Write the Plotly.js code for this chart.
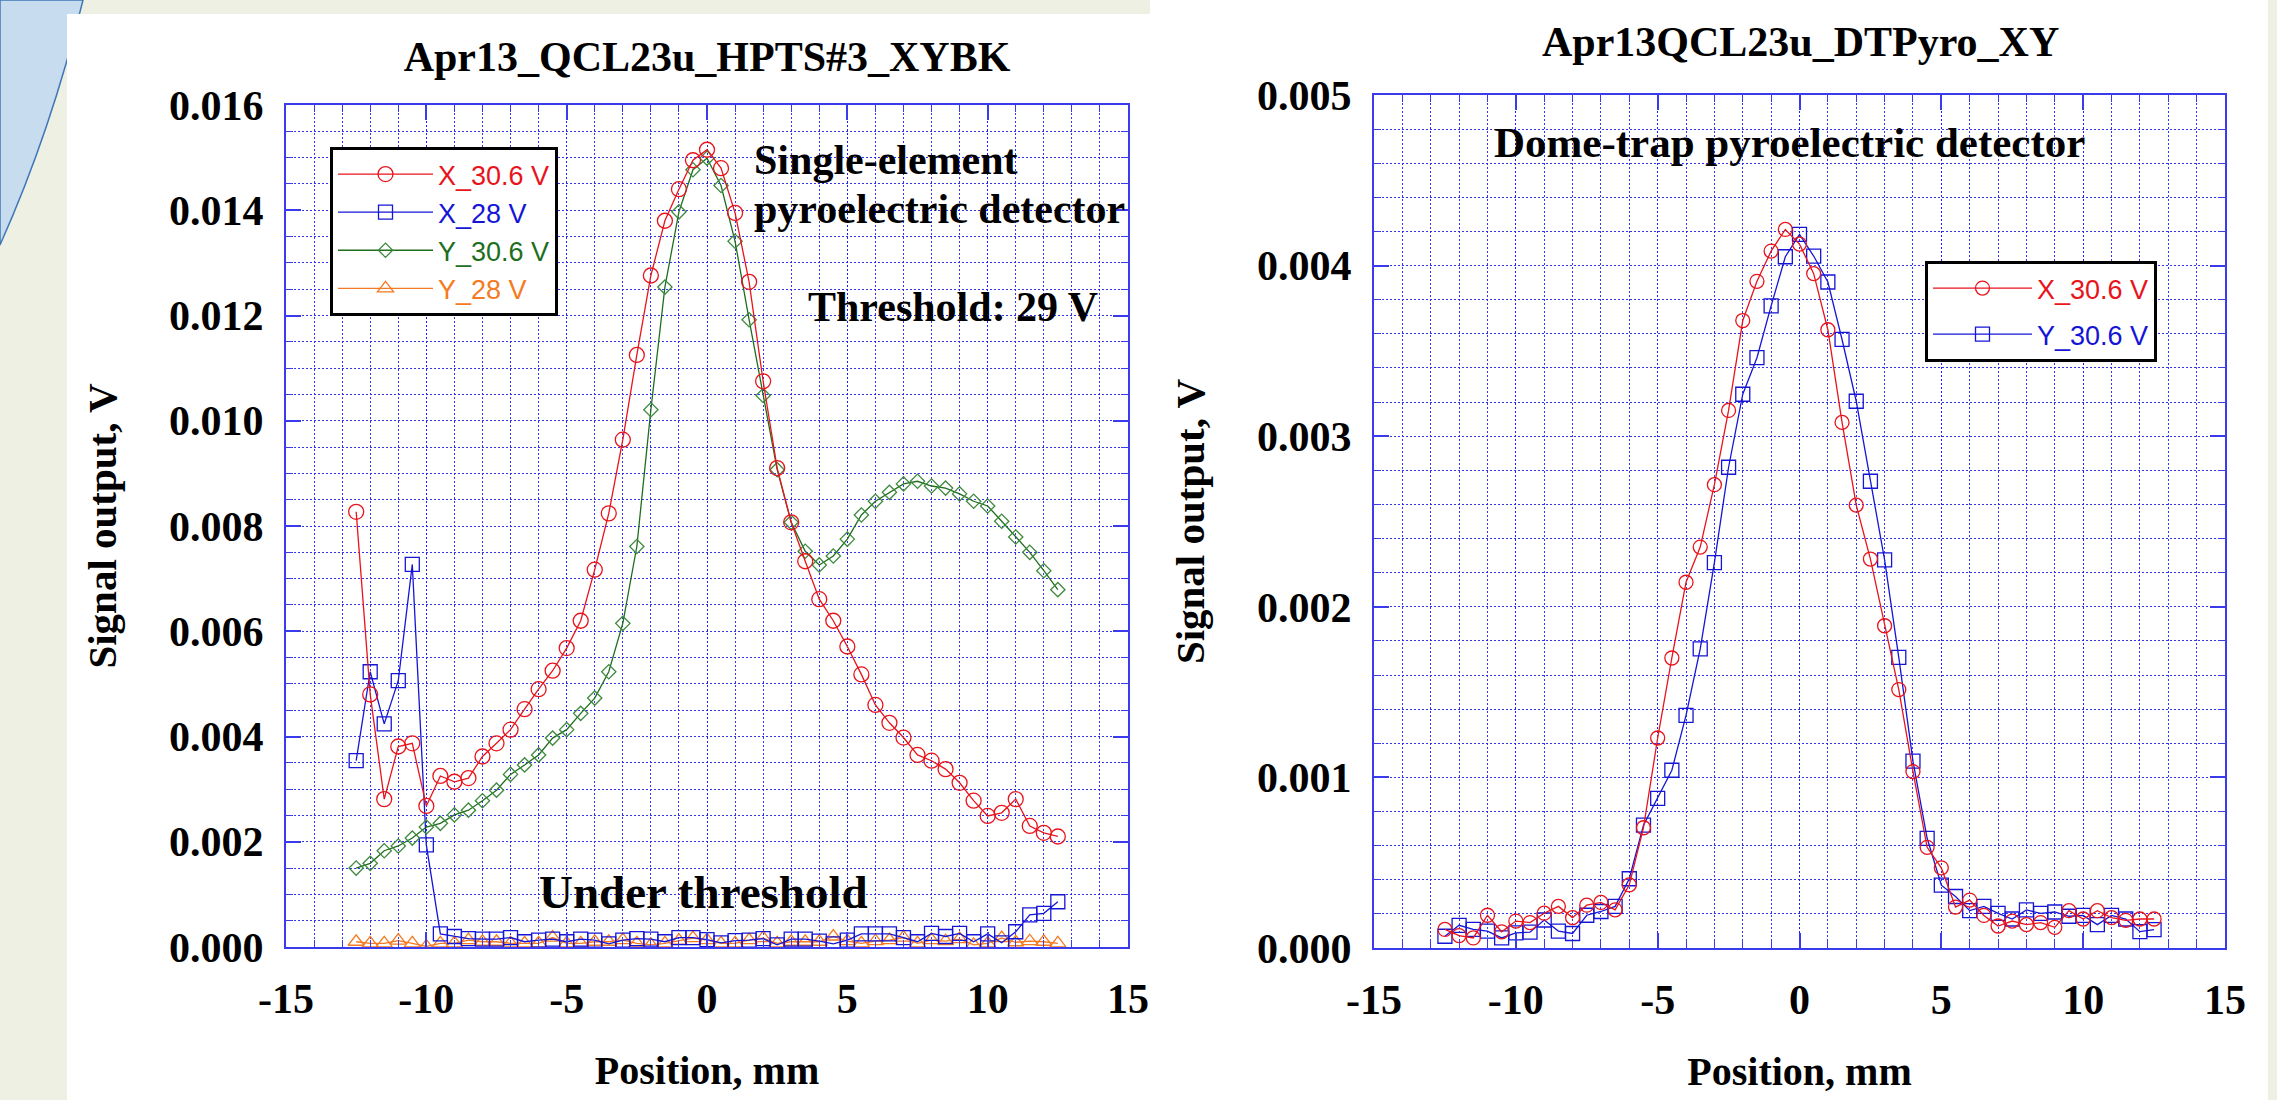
<!DOCTYPE html>
<html>
<head>
<meta charset="utf-8">
<script src="https://cdn.plot.ly/plotly-3.0.1.min.js"></script>
<style>
html,body{margin:0;padding:0;background:#eef0e4;}
#chart{width:2277px;height:1100px;}
</style>
</head>
<body>
<div id="chart"></div>
<script>
// ---------------- DATA ----------------
const positionMm = [-12.5,-12,-11.5,-11,-10.5,-10,-9.5,-9,-8.5,-8,-7.5,-7,-6.5,-6,-5.5,-5,-4.5,-4,-3.5,-3,-2.5,-2,-1.5,-1,-0.5,0,
  0.5,1,1.5,2,2.5,3,3.5,4,4.5,5,5.5,6,6.5,7,7.5,8,8.5,9,9.5,10,10.5,11,11.5,12,12.5];

// Left chart: Apr13_QCL23u_HPTS#3_XYBK (single-element pyroelectric detector)
const hptsX_30_6V = [0.00827,0.00480,0.00281,0.00381,0.00387,0.00268,0.00325,0.00314,0.00321,0.00362,0.00387,0.00413,0.00452,0.00490,0.00525,0.00568,0.00620,0.00717,0.00824,0.00964,0.01125,0.01276,0.01380,0.01440,0.01495,0.01515,
  0.01480,0.01395,0.01264,0.01075,0.00910,0.00807,0.00733,0.00661,0.00620,0.00571,0.00518,0.00460,0.00426,0.00398,0.00365,0.00354,0.00338,0.00312,0.00278,0.00249,0.00255,0.00281,0.00230,0.00217,0.00210];
const hptsX_28V = [0.00354,0.00523,0.00424,0.00506,0.00727,0.00194,0.00025,0.00020,0.00016,0.00015,0.00015,0.00018,0.00010,0.00013,0.00015,0.00010,0.00015,0.00013,0.00006,0.00013,0.00016,0.00015,0.00010,0.00018,0.00018,0.00014,
  0.00008,0.00012,0.00013,0.00016,0.00004,0.00015,0.00015,0.00011,0.00006,0.00013,0.00025,0.00025,0.00025,0.00018,0.00010,0.00026,0.00020,0.00026,0.00010,0.00025,0.00008,0.00029,0.00061,0.00064,0.00086];
const hptsY_30_6V = [0.00150,0.00159,0.00183,0.00192,0.00207,0.00228,0.00235,0.00251,0.00260,0.00278,0.00298,0.00328,0.00346,0.00365,0.00397,0.00413,0.00444,0.00473,0.00523,0.00615,0.00761,0.01021,0.01254,0.01397,0.01477,0.01499,
  0.01447,0.01341,0.01192,0.01048,0.00907,0.00807,0.00752,0.00726,0.00743,0.00775,0.00821,0.00847,0.00864,0.00880,0.00885,0.00876,0.00872,0.00861,0.00847,0.00838,0.00809,0.00779,0.00750,0.00715,0.00679];
const hptsY_28V = [0.00010,0.00007,0.00007,0.00012,0.00007,0.00001,0.00007,0.00007,0.00013,0.00010,0.00010,0.00007,0.00007,0.00007,0.00018,0.00007,0.00007,0.00010,0.00010,0.00013,0.00007,0.00004,0.00007,0.00012,0.00017,0.00013,
  0.00007,0.00007,0.00013,0.00017,0.00007,0.00010,0.00010,0.00010,0.00020,0.00011,0.00007,0.00011,0.00013,0.00018,0.00007,0.00013,0.00011,0.00015,0.00004,0.00007,0.00017,0.00009,0.00011,0.00010,0.00007];

// Right chart: Apr13QCL23u_DTPyro_XY (dome-trap pyroelectric detector)
const dtpX_30_6V = [0.000109,0.000073,0.000059,0.000192,0.000095,0.000158,0.000149,0.000204,0.000244,0.000178,0.000251,0.000267,0.000224,0.000370,0.000705,0.001231,0.001700,0.002144,0.002350,0.002716,0.003151,0.003678,0.003908,0.004085,0.004212,0.004126,
  0.003953,0.003624,0.003081,0.002596,0.002280,0.001889,0.001515,0.001034,0.000590,0.000470,0.000240,0.000281,0.000191,0.000129,0.000158,0.000137,0.000149,0.000121,0.000219,0.000170,0.000219,0.000178,0.000162,0.000170,0.000170];
const dtpY_30_6V = [0.000069,0.000133,0.000109,0.000099,0.000059,0.000089,0.000093,0.000164,0.000099,0.000085,0.000192,0.000214,0.000244,0.000406,0.000720,0.000877,0.001042,0.001363,0.001753,0.002259,0.002818,0.003246,0.003460,0.003764,0.004052,0.004183,
  0.004056,0.003904,0.003567,0.003205,0.002736,0.002275,0.001704,0.001095,0.000643,0.000368,0.000302,0.000219,0.000244,0.000203,0.000170,0.000223,0.000203,0.000211,0.000186,0.000191,0.000137,0.000191,0.000170,0.000096,0.000108];

const xTickVals = [-15, -10, -5, 0, 5, 10, 15];
const xTickText = ['-15', '-10', '-5', '0', '5', '10', '15'];
const xRange = [-15, 15];
const leftYRange = [0, 0.016];
const rightYRange = [0, 0.005];

// ---------------- STYLE / LAYOUT ----------------
const W = 2277, H = 1100;
const px = x => x / W;
const py = y => 1 - y / H;
const SERIF = 'Liberation Serif, Times New Roman, serif';
const SANS = 'Liberation Sans, Arial, Helvetica, sans-serif';
const GRID = 'rgba(30,30,235,0.9)';
const GDASH = '2px,2px';
const AXIS = '#3b3bee';
const RED = '#e8141c', BLUE = '#1515d6', GREEN = '#1e6e1e', GREEN_M = '#3f8a3f', ORANGE = '#f57a22';

function xAxis(domain) {
  return {
    domain: domain, range: xRange, tickmode: 'array', tickvals: xTickVals, ticktext: xTickText,
    ticks: 'inside', ticklen: 15, tickwidth: 1.5, tickcolor: AXIS,
    showgrid: true, gridcolor: GRID, griddash: GDASH, gridwidth: 1,
    minor: {tickmode: 'linear', dtick: 1, tick0: 0, ticks: 'inside', ticklen: 7, tickwidth: 1.2, tickcolor: AXIS,
            showgrid: true, gridcolor: GRID, griddash: GDASH, gridwidth: 1},
    showline: true, linecolor: AXIS, linewidth: 2, mirror: 'allticks', zeroline: false,
    tickfont: {family: SERIF, size: 42, weight: 700, color: '#000'},
    ticklabelstandoff: 14,
    automargin: false,
    title: {text: 'Position, mm', font: {family: SERIF, size: 40, weight: 700, color: '#000'}, standoff: 35}
  };
}
function yAxis(domain, range, dtick, minorDtick, anchor) {
  return {
    domain: domain, range: range, dtick: dtick, tick0: 0, tickformat: '.3f', anchor: anchor,
    ticks: 'inside', ticklen: 15, tickwidth: 1.5, tickcolor: AXIS,
    showgrid: true, gridcolor: GRID, griddash: GDASH, gridwidth: 1,
    minor: {dtick: minorDtick, tick0: 0, ticks: 'inside', ticklen: 7, tickwidth: 1.2, tickcolor: AXIS,
            showgrid: true, gridcolor: GRID, griddash: GDASH, gridwidth: 1},
    showline: true, linecolor: AXIS, linewidth: 2, mirror: 'allticks', zeroline: false,
    tickfont: {family: SERIF, size: 42, weight: 700, color: '#000'},
    ticklabelstandoff: 12,
    automargin: false,
    title: {text: 'Signal output, V', font: {family: SERIF, size: 41, weight: 700, color: '#000'}, standoff: 40}
  };
}

function series(x, y, name, color, markerColor, symbol, size, xa, ya, legend, group) {
  return {
    type: 'scatter', mode: 'lines+markers', x: x, y: y, name: name,
    xaxis: xa, yaxis: ya, legend: legend, legendgroup: group,
    line: {color: color, width: 1.3},
    marker: {symbol: symbol, size: size, color: markerColor, line: {color: markerColor, width: 1.3}}
  };
}
const lbl = (t, c) => '<span style="color:' + c + '">' + t + '</span>';

const traces = [
  series(positionMm, hptsY_28V, lbl('Y_28 V', ORANGE), ORANGE, ORANGE, 'triangle-up-open', 14, 'x', 'y', 'legend', 'l'),
  series(positionMm, hptsX_28V, lbl('X_28 V', BLUE), BLUE, BLUE, 'square-open', 14, 'x', 'y', 'legend', 'l'),
  series(positionMm, hptsY_30_6V, lbl('Y_30.6 V', GREEN), GREEN, GREEN_M, 'diamond-open', 11, 'x', 'y', 'legend', 'l'),
  series(positionMm, hptsX_30_6V, lbl('X_30.6 V', RED), RED, RED, 'circle-open', 15, 'x', 'y', 'legend', 'l'),
  series(positionMm, dtpY_30_6V, lbl('Y_30.6 V', BLUE), BLUE, BLUE, 'square-open', 14, 'x2', 'y2', 'legend2', 'b'),
  series(positionMm, dtpX_30_6V, lbl('X_30.6 V', RED), RED, RED, 'circle-open', 14, 'x2', 'y2', 'legend2', 'a')
];
// legend order: X_30.6, X_28, Y_30.6, Y_28
traces[3].legendrank = 1; traces[1].legendrank = 2; traces[2].legendrank = 3; traces[0].legendrank = 4;
traces[5].legendrank = 1; traces[4].legendrank = 2;

const boldSerif = (s) => ({family: SERIF, size: s, weight: 700, color: '#000'});
const note = (text, x, y, size, xanchor) => ({
  text: text, xref: 'paper', yref: 'paper', x: px(x), y: py(y),
  xanchor: xanchor || 'left', yanchor: 'middle', showarrow: false, font: boldSerif(size)
});

const layout = {
  width: W, height: H,
  margin: {l: 0, r: 0, t: 0, b: 0, pad: 0},
  paper_bgcolor: '#eef0e4', plot_bgcolor: '#ffffff',
  showlegend: true,
  title: {text: 'Apr13_QCL23u_HPTS#3_XYBK', x: px(707), xanchor: 'center', y: py(56), yanchor: 'middle',
          font: boldSerif(42)},
  xaxis: xAxis([px(286), px(1128)]),
  yaxis: yAxis([py(947), py(105)], leftYRange, 0.002, 0.0005, 'x'),
  xaxis2: Object.assign(xAxis([px(1374), px(2225)]), {anchor: 'y2'}),
  yaxis2: yAxis([py(948), py(95)], rightYRange, 0.001, 0.0002, 'x2'),
  legend: {x: px(330), y: py(147), xanchor: 'left', yanchor: 'top', bgcolor: '#ffffff',
           bordercolor: '#000', borderwidth: 3, font: {family: SANS, size: 27, color: '#000'},
           itemwidth: 95, tracegroupgap: 0, traceorder: 'normal'},
  legend2: {x: px(1925), y: py(261), xanchor: 'left', yanchor: 'top', bgcolor: '#ffffff',
            bordercolor: '#000', borderwidth: 3, font: {family: SANS, size: 27, color: '#000'},
            itemwidth: 99, tracegroupgap: 8, traceorder: 'grouped'},
  shapes: [
    {type: 'path', xref: 'paper', yref: 'paper', layer: 'below',
     path: 'M 0,1 L ' + px(83) + ',1 Q ' + px(51) + ',' + py(131) + ' 0,' + py(245) + ' Z',
     fillcolor: '#c8dcef', line: {color: '#3f77b6', width: 1.5}},
    {type: 'rect', xref: 'paper', yref: 'paper', layer: 'below',
     x0: px(67), x1: px(1152), y0: 0, y1: py(14), fillcolor: '#ffffff', line: {width: 0}},
    {type: 'rect', xref: 'paper', yref: 'paper', layer: 'below',
     x0: px(1150), x1: px(2268), y0: 0, y1: 1, fillcolor: '#ffffff', line: {width: 0}}
  ],
  annotations: [
    note('Apr13QCL23u_DTPyro_XY', 1800, 42, 42, 'center'),
    note('Single-element', 752, 160, 42),
    note('pyroelectric detector', 752, 209, 42),
    note('Threshold: 29 V', 806, 307, 42),
    note('Under threshold', 537, 892, 47),
    note('Dome-trap pyroelectric detector', 1492, 142, 43)
  ]
};

Plotly.newPlot('chart', traces, layout, {displayModeBar: false, responsive: false});
</script>
</body>
</html>
